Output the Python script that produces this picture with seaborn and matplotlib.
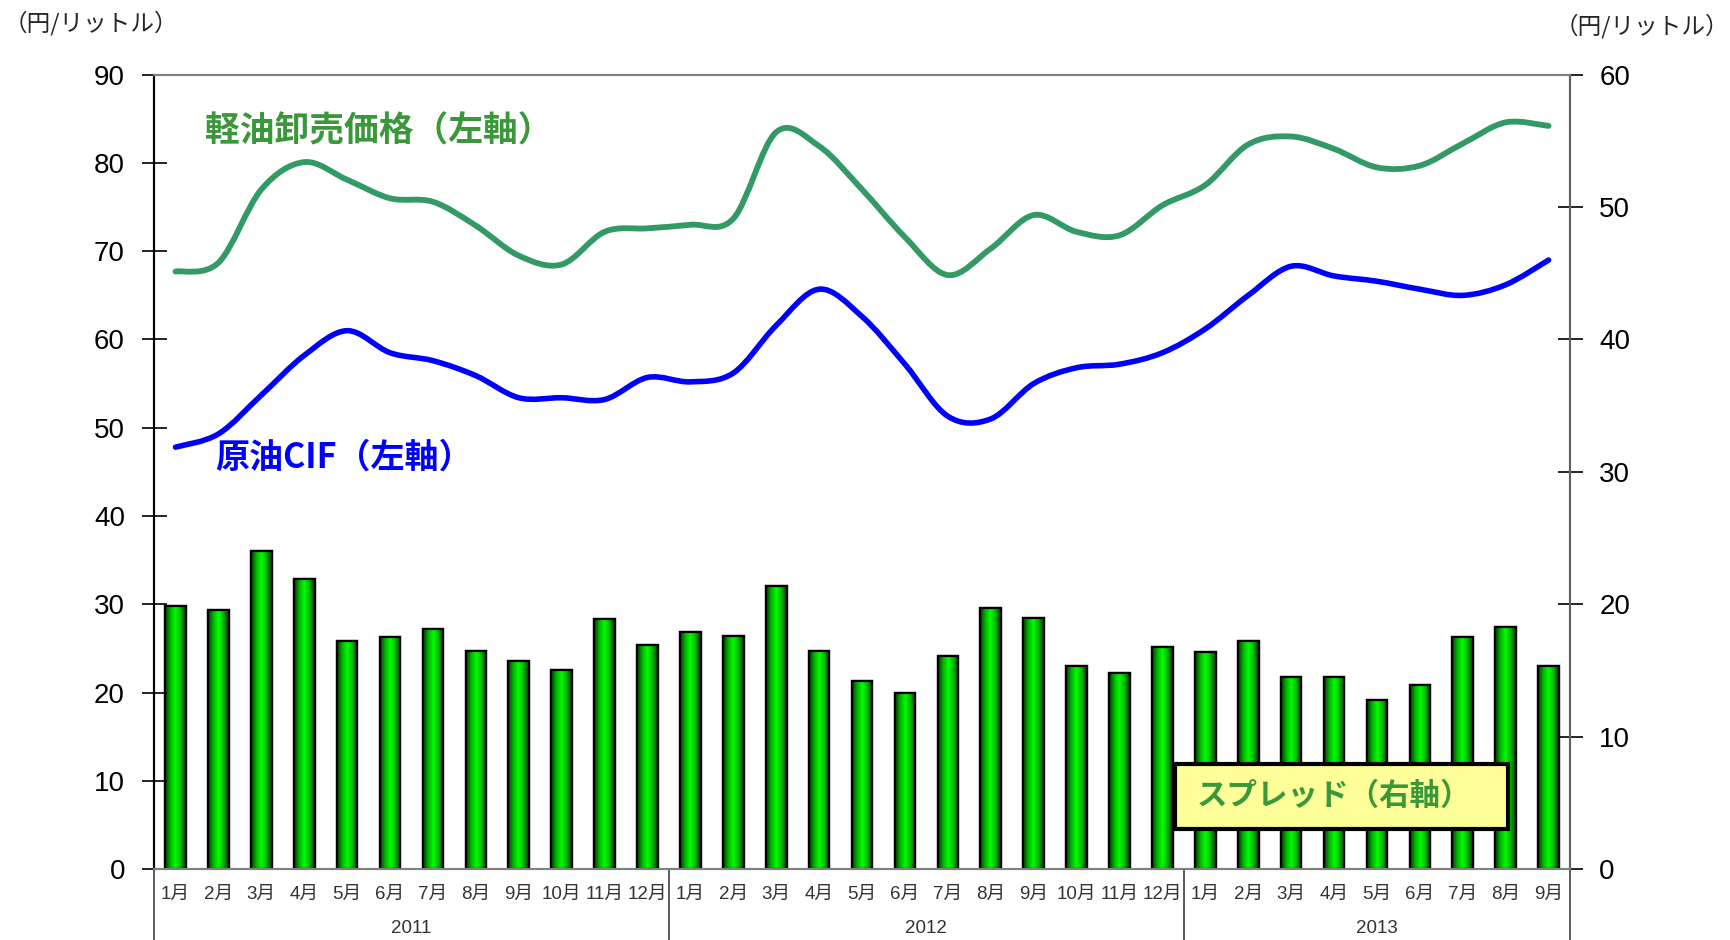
import numpy as np
import pandas as pd
import matplotlib
matplotlib.use('Agg')
import matplotlib.pyplot as plt
import seaborn as sns
from matplotlib.path import Path
from matplotlib.patches import PathPatch, Rectangle
from matplotlib.colors import LinearSegmentedColormap
import matplotlib.transforms as mtransforms

# data
years = ['2011', '2012', '2013']
months_per_year = [12, 12, 9]
month_labels = [f'{m}月' for m in range(1, 13)] * 2 + [f'{m}月' for m in range(1, 10)]

# spread (right axis, yen/litre)
spread = [19.9, 19.6, 24.0, 21.9, 17.2, 17.5, 18.1, 16.5, 15.7, 15.0, 18.9, 16.9,
          17.9, 17.6, 21.4, 16.5, 14.2, 13.3, 16.1, 19.7, 19.0, 15.3, 14.8, 16.8,
          16.4, 17.2, 14.5, 14.5, 12.8, 13.9, 17.5, 18.3, 15.3]
# diesel wholesale price (left axis)
diesel = [67.7, 68.7, 77.0, 80.1, 78.1, 76.0, 75.6, 72.9, 69.5, 68.5, 72.2, 72.6,
          73.0, 73.7, 83.5, 81.9, 77.0, 71.6, 67.3, 70.3, 74.1, 72.2, 71.8, 75.2,
          77.5, 82.1, 83.0, 81.6, 79.5, 79.7, 82.2, 84.6, 84.2]
# crude oil CIF (left axis)
crude = [47.8, 49.3, 53.7, 58.2, 61.0, 58.5, 57.6, 55.9, 53.4, 53.4, 53.2, 55.7,
         55.2, 56.2, 61.6, 65.7, 62.6, 57.2, 51.3, 51.0, 55.0, 56.8, 57.2, 58.5,
         61.2, 65.0, 68.3, 67.2, 66.6, 65.7, 65.0, 66.2, 69.0]

df = pd.DataFrame({'idx': np.arange(len(spread)), 'spread': spread})

sns.set_style('white')
plt.rcParams['font.family'] = ['Liberation Sans', 'Noto Sans CJK JP', 'DejaVu Sans']
jp = ['Noto Sans CJK JP', 'DejaVu Sans']

fig = plt.figure(figsize=(17.31, 9.40), dpi=100)
ax = fig.add_axes([0.089, 0.0755, 0.818, 0.845])
ax2 = ax.twinx()

# bars on the right axis, behind the lines
ax2.set_facecolor('#FFFFCC')
sns.barplot(data=df, x='idx', y='spread', ax=ax2, color='#00dd00', width=0.48,
            edgecolor='black', linewidth=1.6, saturation=1)
cmap = LinearSegmentedColormap.from_list('g', [(0, '#003a00'), (0.25, '#00b400'),
                                              (0.5, '#00ff00'), (0.75, '#00b400'),
                                              (1, '#003a00')])
grad = np.linspace(0, 1, 64).reshape(1, -1)
for p in list(ax2.patches):
    x0, y0, w, h = p.get_x(), p.get_y(), p.get_width(), p.get_height()
    im = ax2.imshow(grad, cmap=cmap, extent=[x0, x0 + w, y0, y0 + h],
                    aspect='auto', zorder=p.get_zorder() + 0.1)
    im.set_clip_path(p)
    edge = Rectangle((x0, y0), w, h, fill=False, edgecolor='black', linewidth=1.6,
                     zorder=p.get_zorder() + 0.2)
    ax2.add_patch(edge)

ax.set_zorder(ax2.get_zorder() + 1)
ax.patch.set_visible(False)


def smooth_path(xs, ys):
    pts = np.column_stack([xs, ys]).astype(float)
    verts = [pts[0]]
    codes = [Path.MOVETO]
    n = len(pts)
    for i in range(n - 1):
        p0 = pts[i - 1] if i > 0 else pts[i]
        p1, p2 = pts[i], pts[i + 1]
        p3 = pts[i + 2] if i + 2 < n else pts[i + 1]
        c1 = p1 + (p2 - p0) / 6.0
        c2 = p2 - (p3 - p1) / 6.0
        verts += [c1, c2, p2]
        codes += [Path.CURVE4] * 3
    return Path(verts, codes)


x = df['idx'].values
ax.add_patch(PathPatch(smooth_path(x, diesel), fill=False, edgecolor='#339966',
                       linewidth=4.2, capstyle='round', joinstyle='round'))
ax.add_patch(PathPatch(smooth_path(x, crude), fill=False, edgecolor='#0000ff',
                       linewidth=4.0, capstyle='round', joinstyle='round'))

n = len(spread)
ax.set_xlim(-0.5, n - 0.5)
ax.set_ylim(0, 90)
ax2.set_ylim(0, 60)
ax.set_yticks(np.arange(0, 91, 10))
ax2.set_yticks(np.arange(0, 61, 10))
ax.set_xticks(x)
ax.set_xticklabels(month_labels, fontsize=13.5, color='#333333')
ax.tick_params(axis='x', length=0, pad=12)
ax.tick_params(axis='y', direction='inout', length=18, width=1.2, pad=12,
               labelsize=20, colors='black')
ax2.tick_params(axis='y', direction='inout', length=18, width=1.2, pad=12,
                labelsize=20, colors='black')
ax2.set_xlabel('')
ax2.set_ylabel('')
ax.set_ylabel('')
ax2.tick_params(axis='x', length=0, labelbottom=False)

for a in (ax, ax2):
    a.spines['top'].set_color('#808080')
    a.spines['bottom'].set_color('#808080')
    a.spines['left'].set_color('black')
    a.spines['right'].set_color('#606060')
    for s in a.spines.values():
        s.set_linewidth(1.5)

# year group separators and labels below the axis
trans = mtransforms.blended_transform_factory(ax.transData, ax.transAxes)
bounds = np.concatenate([[0], np.cumsum(months_per_year)]) - 0.5
for b in bounds:
    ax.plot([b, b], [0, -0.095], transform=trans, color='#404040', lw=1.2,
            clip_on=False)
for yr, lo, hi in zip(years, bounds[:-1], bounds[1:]):
    ax.text((lo + hi) / 2, -0.075, yr, transform=trans, ha='center', va='center',
            fontsize=13.5, color='#333333')

# unit labels
fig.text(0.002, 0.975, '（円/リットル）', fontsize=17, family=jp, ha='left', va='center')
fig.text(0.999, 0.972, '（円/リットル）', fontsize=17, family=jp, ha='right', va='center')

# series labels
ax.text(0.036, 0.929, '軽油卸売価格（左軸）', transform=ax.transAxes, fontsize=25,
        fontweight='bold', color='#3a983a', family=jp, ha='left', va='center')
ax.text(0.043, 0.519, '原油CIF（左軸）', transform=ax.transAxes, fontsize=24.5,
        fontweight='bold', color='#0000ff', family=jp, ha='left', va='center')
ax.add_patch(Rectangle((0.721, 0.0504), 0.235, 0.0819, transform=ax.transAxes,
                       facecolor='#FFFF99', edgecolor='black', linewidth=3,
                       zorder=5))
ax.text(0.736, 0.092, 'スプレッド（右軸）', transform=ax.transAxes, fontsize=22,
        fontweight='bold', color='#3a983a', family=jp, ha='left', va='center',
        zorder=6)

fig.savefig('out.png', dpi=100)
